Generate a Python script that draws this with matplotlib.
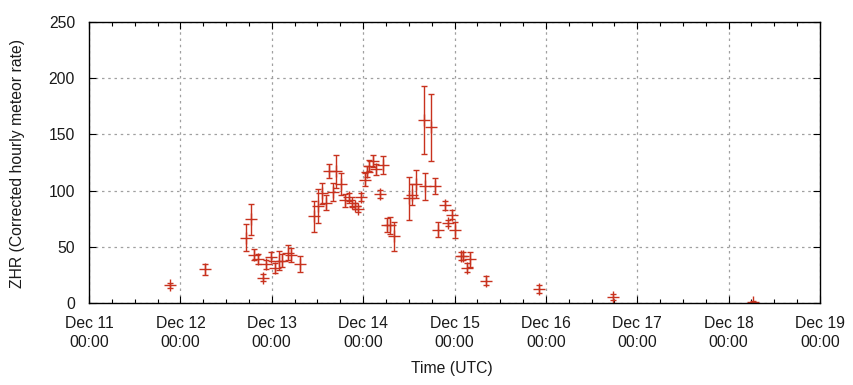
import matplotlib
matplotlib.use("Agg")
import matplotlib.pyplot as plt
import matplotlib.dates as mdates
import pandas as pd
import numpy as np

plt.rcParams['font.family'] = ['Liberation Sans', 'DejaVu Sans']

times = [
    "2020-12-11 21:20", "2020-12-12 06:35", "2020-12-12 17:18", "2020-12-12 18:38",
    "2020-12-12 19:25", "2020-12-12 20:27", "2020-12-12 21:46", "2020-12-12 22:34",
    "2020-12-12 23:53", "2020-12-13 00:55", "2020-12-13 01:58", "2020-12-13 02:46",
    "2020-12-13 04:11", "2020-12-13 04:58", "2020-12-13 07:19", "2020-12-13 11:10",
    "2020-12-13 12:13", "2020-12-13 13:16", "2020-12-13 14:18", "2020-12-13 15:06",
    "2020-12-13 16:09", "2020-12-13 16:57", "2020-12-13 18:14", "2020-12-13 19:18",
    "2020-12-13 20:21", "2020-12-13 21:09", "2020-12-13 21:56", "2020-12-13 22:42",
    "2020-12-13 23:30", "2020-12-14 00:33", "2020-12-14 01:05", "2020-12-14 01:36",
    "2020-12-14 02:40", "2020-12-14 03:26", "2020-12-14 04:29", "2020-12-14 05:17",
    "2020-12-14 06:20", "2020-12-14 07:06", "2020-12-14 08:10", "2020-12-14 12:06",
    "2020-12-14 12:53", "2020-12-14 13:56", "2020-12-14 16:02", "2020-12-14 16:18",
    "2020-12-14 17:53", "2020-12-14 18:56", "2020-12-14 19:43", "2020-12-14 21:33",
    "2020-12-14 22:20", "2020-12-14 23:23", "2020-12-15 00:11", "2020-12-15 01:45",
    "2020-12-15 02:17", "2020-12-15 03:20", "2020-12-15 04:07", "2020-12-15 08:19",
    "2020-12-15 22:15", "2020-12-16 17:31", "2020-12-18 06:26",
]
zhr = [
    15.7, 30.2, 58.1, 74.4, 43.0, 38.8, 22.5, 34.4, 41.2, 31.1, 37.7, 37.7,
    44.8, 42.7, 34.4, 77.1, 86.3, 97.6, 89.2, 117.5, 99.0, 117.0, 105.6, 91.4,
    94.0, 88.7, 86.0, 83.4, 94.0, 109.7, 116.8, 121.9, 126.3, 118.9, 96.6, 123.0,
    69.5, 69.2, 59.4, 93.1, 96.5, 105.6, 162.5, 103.8, 156.3, 103.8, 65.0, 86.9,
    71.4, 78.6, 65.2, 41.8, 41.8, 31.2, 39.1, 19.6, 12.5, 5.3, 1.2,
]
zhr_err = [
    2.4, 4.9, 11.9, 14.0, 4.9, 4.4, 3.1, 4.3, 4.1, 4.1, 8.3, 6.0,
    6.8, 5.9, 7.1, 13.9, 14.8, 9.5, 6.5, 6.4, 8.0, 14.9, 9.7, 5.8,
    3.6, 3.1, 2.7, 2.7, 3.6, 5.9, 4.9, 4.9, 5.0, 4.7, 3.5, 8.2,
    6.5, 7.7, 12.9, 19.1, 9.2, 12.3, 30.2, 12.0, 29.8, 7.1, 6.7, 4.0,
    2.8, 3.9, 7.3, 3.9, 3.9, 4.0, 6.7, 4.0, 3.3, 2.5, 1.0,
]
x_start = "2020-12-11 00:00"
x_end = "2020-12-19 00:00"

t = pd.to_datetime(times)

fig = plt.figure(figsize=(8.54, 3.85), dpi=100)
ax = fig.add_axes([89/854, 82/385, (820-89)/854, (303-22)/385])

color = '#c8321e'
ax.errorbar(t, zhr, yerr=zhr_err, fmt='+', color=color, ecolor=color,
            elinewidth=1.0, capsize=2.5, capthick=1.0, markersize=8, markeredgewidth=1.0)

ax.set_xlim(pd.Timestamp(x_start), pd.Timestamp(x_end))
ax.set_ylim(0, 250)
ax.set_yticks(np.arange(0, 251, 50))
ax.xaxis.set_major_locator(mdates.DayLocator())
ax.xaxis.set_major_formatter(mdates.DateFormatter('%b %d\n%H:%M'))
ax.xaxis.set_minor_locator(mdates.HourLocator(byhour=[6, 12, 18]))

fs = 11.3
ax.grid(True, which='major', color='#a0a0a0', linestyle=(0, (2, 3)), linewidth=0.9)
ax.tick_params(axis='both', which='both', direction='in', top=True, right=True,
               labelsize=fs, colors='black')
ax.tick_params(axis='x', which='major', pad=9)
ax.tick_params(axis='y', which='major', pad=10)
ax.tick_params(axis='both', which='major', length=5, width=0.8)
ax.tick_params(axis='both', which='minor', length=3, width=0.8)
for lbl in ax.get_xticklabels():
    lbl.set_horizontalalignment('center')
    lbl.set_linespacing(1.35)
for lbl in ax.get_xticklabels() + ax.get_yticklabels():
    lbl.set_color('#1a1a1a')
for s in ax.spines.values():
    s.set_linewidth(1.0)
    s.set_color('black')

fig.text(452/854, 1 - 368/385, 'Time (UTC)', fontsize=fs, ha='center', va='center', color='#1a1a1a')
fig.text(18/854, 1 - 164/385, 'ZHR (Corrected hourly meteor rate)', fontsize=fs,
         ha='center', va='center', rotation=90, color='#1a1a1a')

fig.savefig('out.png', dpi=100)
